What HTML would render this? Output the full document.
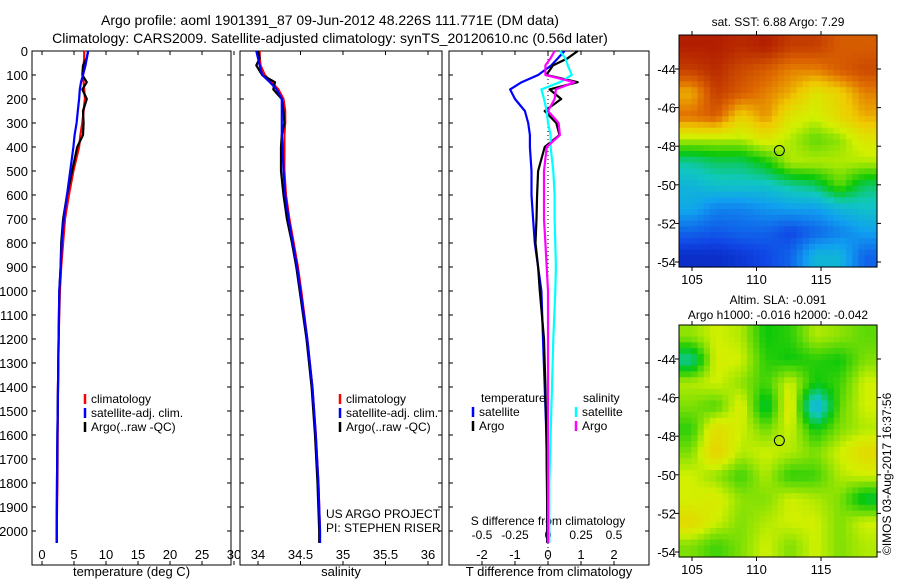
<!DOCTYPE html>
<html><head><meta charset="utf-8"><style>
body{margin:0;background:#fff}
svg{display:block;font-family:"Liberation Sans",sans-serif}
text{fill:#000}
</style></head><body>
<svg id="chart" width="900" height="580" viewBox="0 0 900 580">
<text x="330" y="25" font-size="14" text-anchor="middle">Argo profile: aoml 1901391_87 09-Jun-2012 48.226S 111.771E (DM data)</text>
<text x="330" y="43" font-size="14" text-anchor="middle">Climatology: CARS2009. Satellite-adjusted climatology: synTS_20120610.nc (0.56d later)</text>
<g id="plots"></g>
</svg>
<script>
const depths=[0,30,60,100,130,160,200,250,300,350,400,500,600,700,800,900,1000,1200,1400,1600,1800,2000,2050];
const tClim=[6.6,6.6,6.5,6.4,6.5,6.6,6.7,6.5,6.3,6.0,5.8,4.9,4.2,3.6,3.3,3.0,2.8,2.6,2.5,2.45,2.4,2.3,2.3];
const tSat=[7.2,7.0,6.8,6.4,6.1,5.9,5.8,5.6,5.4,5.1,4.9,4.4,3.9,3.4,3.1,2.9,2.7,2.6,2.5,2.4,2.35,2.3,2.3];
const tArgo=[7.2,7.0,6.4,6.3,7.0,6.3,7.0,6.4,6.5,6.4,5.5,4.7,3.9,3.3,3.0,2.9,2.7,2.6,2.5,2.4,2.35,2.3,2.3];
const sClim=[34.02,34.02,34.03,34.08,34.16,34.24,34.30,34.32,34.32,34.31,34.31,34.31,34.33,34.37,34.42,34.47,34.51,34.58,34.64,34.68,34.71,34.73,34.73];
const sSat=[33.98,34.0,34.02,34.05,34.14,34.22,34.28,34.28,34.28,34.28,34.29,34.3,34.32,34.36,34.41,34.46,34.5,34.58,34.64,34.68,34.71,34.73,34.73];
const sArgo=[34.0,34.02,33.98,34.05,34.2,34.18,34.28,34.3,34.31,34.28,34.27,34.27,34.3,34.34,34.4,34.45,34.49,34.57,34.63,34.67,34.7,34.72,34.72];
const dTSat=[0.5,0.3,0.1,-0.3,-0.8,-1.15,-1.0,-0.7,-0.6,-0.55,-0.55,-0.5,-0.5,-0.45,-0.4,-0.3,-0.2,-0.15,-0.1,-0.05,-0.03,-0.02,-0.02];
const dTArgo=[0.9,0.6,0.15,-0.05,0.9,0.05,0.4,-0.1,0.25,0.35,-0.1,-0.3,-0.33,-0.35,-0.38,-0.3,-0.25,-0.12,-0.08,-0.05,-0.03,-0.02,-0.02];
const dSSat=[0.09,0.13,0.15,0.18,0.09,-0.05,-0.03,-0.01,0,0.02,0.02,0.04,0.05,0.05,0.055,0.06,0.055,0.04,0.03,0.02,0.01,0.01,0.01];
const dSArgo=[0.05,0.02,-0.02,-0.02,0.2,0.06,0.05,0.0,0.08,0.09,-0.01,-0.03,-0.03,-0.03,-0.02,-0.01,0,0,0,0,0,0,0];
const depthTicks=[0,100,200,300,400,500,600,700,800,900,1000,1100,1200,1300,1400,1500,1600,1700,1800,1900,2000];
const tTicks=[0,5,10,15,20,25,30];
const sTicks=["34","34.5","35","35.5","36"];
const dTTicks=["-2","-1","0","1","2"];
const dSTicks=["-0.5","-0.25","0","0.25","0.5"];
const latTicks=[-44,-46,-48,-50,-52,-54];
const lonTicks=[105,110,115];
const sstGrid=[
[.95,.95,.93,.95,.9,.9,.85,.85],
[.9,.93,.88,.85,.8,.8,.85,.88],
[.75,.9,.85,.8,.75,.65,.7,.8],
[.82,.85,.7,.78,.65,.62,.68,.75],
[.6,.6,.6,.65,.6,.55,.58,.65],
[.42,.45,.45,.5,.6,.6,.6,.6],
[.35,.38,.38,.38,.42,.45,.55,.45],
[.32,.25,.25,.28,.3,.3,.35,.38],
[.2,.18,.2,.2,.15,.2,.25,.3],
[.1,.1,.12,.15,.2,.35,.35,.2]];
const slaGrid=[
[.58,.62,.6,.5,.52,.6,.58,.55],
[.42,.63,.62,.52,.5,.52,.5,.57],
[.6,.62,.58,.53,.62,.5,.53,.62],
[.57,.54,.64,.46,.66,.32,.55,.62],
[.52,.67,.62,.56,.62,.5,.57,.6],
[.57,.7,.6,.62,.6,.57,.62,.68],
[.62,.58,.53,.6,.52,.53,.6,.62],
[.62,.64,.58,.57,.62,.6,.57,.47],
[.68,.62,.57,.6,.62,.62,.57,.62],
[.57,.53,.57,.62,.57,.62,.57,.6]];

const NS='http://www.w3.org/2000/svg';
const root=document.getElementById('plots');
function mk(tag,attrs,parent,txt){const e=document.createElementNS(NS,tag);for(const k in attrs)e.setAttribute(k,attrs[k]);if(txt!==undefined)e.textContent=txt;(parent||root).appendChild(e);return e;}
const Y0=51,Y1=565;
const yD=d=>Y0+d*0.24;

function panel(name,x0,x1,xs,ticksX,labelsX,xlab,withYLabels){
  const g=mk('g',{});
  
  
  const r=mk('rect',{x:x0,y:Y0,width:x1-x0,height:Y1-Y0,fill:'#fff',stroke:'#000','stroke-width':1},g);
  
  
  depthTicks.forEach(d=>{const y=yD(d);
    mk('line',{x1:x0,y1:y,x2:x0+4,y2:y,stroke:'#000'},g);
    mk('line',{x1:x1-4,y1:y,x2:x1,y2:y,stroke:'#000'},g);
    if(withYLabels){const t=mk('text',{x:x0-4,y:y+5,'font-size':13,'text-anchor':'end'},g,String(d));
      
      }
  });
  ticksX.forEach((v,i)=>{const x=xs(v);
    mk('line',{x1:x,y1:Y1,x2:x,y2:Y1-4,stroke:'#000'},g);
    mk('line',{x1:x,y1:Y0,x2:x,y2:Y0+4,stroke:'#000'},g);
    const t=mk('text',{x:x,y:559,'font-size':13,'text-anchor':'middle'},g,labelsX[i]);
    
    
  });
  const xl=mk('text',{x:(x0+x1)/2,y:576,'font-size':13,'text-anchor':'middle'},g,xlab);
  
  
  return g;
}
function line(g,vals,xs,color,name,w){
  const pts=vals.map((v,i)=>xs(v).toFixed(1)+','+yD(depths[i]).toFixed(1)).join(' ');
  const p=mk('polyline',{points:pts,fill:'none',stroke:color,'stroke-width':w||2.2,'stroke-linejoin':'round'},g);
  
  
}
function legend(g,x,y,color,label){
  mk('line',{x1:x,y1:y-9,x2:x,y2:y+1,stroke:color,'stroke-width':2.5},g);
  const t=mk('text',{x:x+6,y:y,'font-size':12},g,label);
  
  
}

const xT=v=>42+v*6.4;
const g1=panel('temperature-panel',32,231,xT,tTicks,tTicks.map(String),'temperature (deg C)',true);
line(g1,tClim,xT,'#f00','climatology-temperature-line');
line(g1,tArgo,xT,'#000','argo-temperature-line');
line(g1,tSat,xT,'#00f','satellite-temperature-line');
legend(g1,85,403,'#f00','climatology');
legend(g1,85,417,'#00f','satellite-adj. clim.');
legend(g1,85,431,'#000','Argo(..raw -QC)');

const xS=v=>258+(v-34)*85;
const g2=panel('salinity-panel',240,442,xS,sTicks.map(Number),sTicks,'salinity',false);
line(g2,sClim,xS,'#f00','climatology-salinity-line');
line(g2,sArgo,xS,'#000','argo-salinity-line');
line(g2,sSat,xS,'#00f','satellite-salinity-line');
legend(g2,340,403,'#f00','climatology');
legend(g2,340,417,'#00f','satellite-adj. clim.');
legend(g2,340,431,'#000','Argo(..raw -QC)');
const u1=mk('text',{x:326,y:518,'font-size':12},g2,'US ARGO PROJECT');


const u2=mk('text',{x:326,y:532,'font-size':12},g2,'PI: STEPHEN RISER');



const xDT=v=>548+v*33;
const xDS=v=>548+v*132;
const g3=panel('difference-panel',449,649,xDT,dTTicks.map(Number),dTTicks,'T difference from climatology',false);
mk('line',{x1:548,y1:Y0,x2:548,y2:Y1,stroke:'#000','stroke-width':1,'stroke-dasharray':'1,3'},g3);
dSTicks.forEach(s=>{const t=mk('text',{x:xDS(Number(s)),y:539,'font-size':12,'text-anchor':'middle'},g3,s);
  
  });
const sl=mk('text',{x:548,y:525,'font-size':12,'text-anchor':'middle'},g3,'S difference from climatology');


line(g3,dTSat,xDT,'#00f','t-diff-satellite-line');
line(g3,dTArgo,xDT,'#000','t-diff-argo-line');
line(g3,dSSat,xDS,'#0ff','s-diff-satellite-line');
line(g3,dSArgo,xDS,'#f0f','s-diff-argo-line');
const lt=mk('text',{x:481,y:402,'font-size':12},g3,'temperature');


const ls=mk('text',{x:583,y:402,'font-size':12},g3,'salinity');


legend(g3,473,416,'#00f','satellite');
legend(g3,473,430,'#000','Argo');
legend(g3,576,416,'#0ff','satellite');
legend(g3,576,430,'#f0f','Argo');

const stops=[[0,[0,0,140]],[0.15,[16,70,230]],[0.3,[16,160,240]],[0.4,[16,200,190]],[0.5,[10,200,10]],[0.62,[210,240,0]],[0.72,[240,200,0]],[0.82,[225,110,0]],[1,[160,0,0]]];
function cmap(v){v=Math.max(0,Math.min(1,v));for(let i=1;i<stops.length;i++){if(v<=stops[i][0]){const a=stops[i-1],b=stops[i],f=(v-a[0])/(b[0]-a[0]);
  return 'rgb('+a[1].map((c,k)=>Math.round(c+(b[1][k]-c)*f)).join(',')+')';}}return 'rgb(160,0,0)';}
function sample(grid,fr,fc){
  const rows=grid.length,cols=grid[0].length;
  const r=Math.max(0,Math.min(rows-1,fr-0.5)),c=Math.max(0,Math.min(cols-1,fc-0.5));
  const r0=Math.floor(r),c0=Math.floor(c),r1=Math.min(rows-1,r0+1),c1=Math.min(cols-1,c0+1);
  const dr=r-r0,dc=c-c0;
  return grid[r0][c0]*(1-dr)*(1-dc)+grid[r0][c1]*(1-dr)*dc+grid[r1][c0]*dr*(1-dc)+grid[r1][c1]*dr*dc;
}
function map(name,y0,grid,title1,title2){
  const g=mk('g',{});
  
  
  const x0=679,x1=877,y1=y0+232;
  const rows=grid.length,cols=grid[0].length,SUB=4;
  const cw=(x1-x0)/(cols*SUB),ch=(y1-y0)/(rows*SUB);
  for(let r=0;r<rows*SUB;r++)for(let c=0;c<cols*SUB;c++){
    const v=sample(grid,(r+0.5)/SUB,(c+0.5)/SUB);
    const cell=mk('rect',{x:(x0+c*cw).toFixed(2),y:(y0+r*ch).toFixed(2),width:(cw+0.6).toFixed(2),height:(ch+0.6).toFixed(2),fill:cmap(v)},g);
    
    
  }
  mk('rect',{x:x0,y:y0,width:x1-x0,height:y1-y0,fill:'none',stroke:'#000'},g);
  const latY=l=>y0+34+(-44-l)*19.3;
  const lonX=l=>692+(l-105)*12.9;
  latTicks.forEach(l=>{const y=latY(l);
    mk('line',{x1:x0-4,y1:y,x2:x0,y2:y,stroke:'#000'},g);
    mk('line',{x1:x1,y1:y,x2:x1+4,y2:y,stroke:'#000'},g);
    const t=mk('text',{x:x0-3,y:y+5,'font-size':13,'text-anchor':'end'},g,String(l));
    
    });
  lonTicks.forEach(l=>{const x=lonX(l);
    mk('line',{x1:x,y1:y0-4,x2:x,y2:y0,stroke:'#000'},g);
    mk('line',{x1:x,y1:y1,x2:x,y2:y1+4,stroke:'#000'},g);
    const t=mk('text',{x:x,y:y1+17,'font-size':13,'text-anchor':'middle'},g,String(l));
    
    });
  const c=mk('circle',{cx:lonX(111.771),cy:latY(-48.226),r:5,fill:'none',stroke:'#000','stroke-width':1},g);
  
  
  if(title2){
    const a=mk('text',{x:778,y:y0-21,'font-size':12,'text-anchor':'middle'},g,title1);
    
    
    const b=mk('text',{x:778,y:y0-6,'font-size':12,'text-anchor':'middle'},g,title2);
    
    
  } else {
    const a=mk('text',{x:778,y:y0-9,'font-size':12,'text-anchor':'middle'},g,title1);
    
    
  }
}
map('sst-map',35,sstGrid,'sat. SST: 6.88 Argo: 7.29');
map('sla-map',325,slaGrid,'Altim. SLA: -0.091','Argo h1000: -0.016 h2000: -0.042');
const cr=mk('text',{x:0,y:0,'font-size':12,transform:'translate(891,555) rotate(-90)'},root,'©IMOS 03-Aug-2017 16:37:56');


</script>
</body></html>
